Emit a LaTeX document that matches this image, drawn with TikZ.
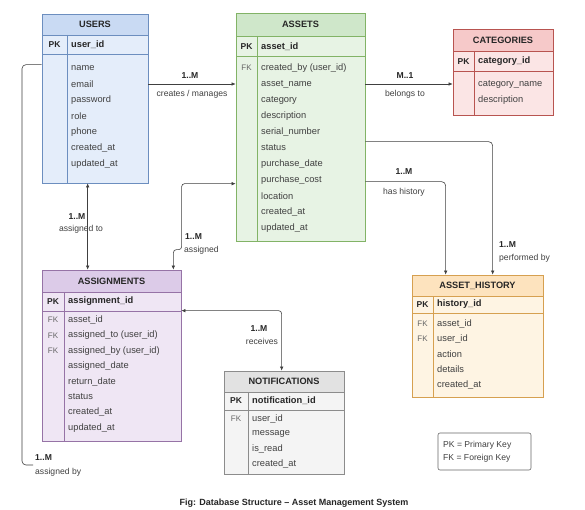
\documentclass[tikz,border=0pt]{standalone}
\usepackage{fontspec}
\setmainfont{Liberation Sans}
\usetikzlibrary{fit,calc,arrows.meta}
\definecolor{usersline}{HTML}{6C8EBF}\definecolor{usershead}{HTML}{C9DAF3}\definecolor{usersbody}{HTML}{E4EDFA}
\definecolor{assetsline}{HTML}{82B366}\definecolor{assetshead}{HTML}{CFE7CA}\definecolor{assetsbody}{HTML}{E7F3E4}
\definecolor{categoriesline}{HTML}{B85450}\definecolor{categorieshead}{HTML}{F6C9C9}\definecolor{categoriesbody}{HTML}{FBE5E5}
\definecolor{assignmentsline}{HTML}{9673A6}\definecolor{assignmentshead}{HTML}{DCCBE8}\definecolor{assignmentsbody}{HTML}{EFE6F4}
\definecolor{notificationsline}{HTML}{8C8C8C}\definecolor{notificationshead}{HTML}{E2E2E2}\definecolor{notificationsbody}{HTML}{F4F4F4}
\definecolor{historyline}{HTML}{D6A050}\definecolor{historyhead}{HTML}{FDE3BE}\definecolor{historybody}{HTML}{FEF4E3}
\tikzset{
  ttl/.style={font=\bfseries\fontsize{9.2}{11}\selectfont, text=black!85, inner sep=0pt},
  fld/.style={anchor=west, inner sep=0pt, font=\fontsize{9.3}{11}\selectfont, text=black!75},
  pkf/.style={fld, font=\bfseries\fontsize{9.3}{11}\selectfont, text=black!85},
  pkt/.style={inner sep=0pt, font=\bfseries\fontsize{8.5}{10}\selectfont, text=black!85},
  fkt/.style={inner sep=0pt, font=\fontsize{8}{10}\selectfont, text=black!60},
  conn/.style={draw=black!75, line width=0.6pt},
  tip/.style={-{Latex[length=4pt,width=3.5pt]}},
  tips/.style={{Latex[length=4pt,width=3.5pt]}-{Latex[length=4pt,width=3.5pt]}},
  lbl/.style={inner sep=0pt, font=\fontsize{8.6}{10}\selectfont, text=black!75},
  mult/.style={inner sep=0pt, font=\bfseries\fontsize{8.6}{10}\selectfont, text=black!85},
}
\newcommand{\erbox}[9]{%
  \node[fit={(#2,#3) (#4,#5)}, inner sep=0pt, draw=#1line, fill=#1body, line width=0.7pt] (#1) {};
  \node[fit={(#2,#3) (#4,#6)}, inner sep=0pt, draw=#1line, fill=#1head, line width=0.7pt] (#1-head) {};
  \node[ttl] (#1-title) at (#1-head.center) {#9};
  \draw[#1line, line width=1pt] (#2,#7) -- (#4,#7);
  \draw[#1line, line width=0.6pt] (#8,#6) -- (#8,#5);
  \node[pkt] (#1-pk) at ({(#2+#8)/2},{(#6+#7)/2}) {PK};
}
\newcommand{\erfields}[5]{\foreach \t [count=\i] in {#5} {\node[fld] (#1-f\i) at (#2,{#3+#4*(\i-1)}) {\t};}}
\begin{document}
\begin{tikzpicture}[x=1pt,y=-1pt]
\path[fill=white] (0,0) rectangle (585,510);
\useasboundingbox (0,0) rectangle (585,510);

% USERS
\erbox{users}{42}{14}{148}{183}{35}{55}{67}{USERS}
\node[pkf] (users-pkf) at (71,45) {user\_id};
\erfields{users}{71}{68}{16}{name,email,password,role,phone,created\_at,updated\_at}

% ASSETS
\erbox{assets}{236}{13}{365}{241}{36}{57}{257}{ASSETS}
\node[pkf] (assets-pkf) at (261,46.5) {asset\_id};
\erfields{assets}{261}{68}{16}{created\_by (user\_id),asset\_name,category,description,serial\_number,status,purchase\_date,purchase\_cost,location,created\_at,updated\_at}
\node[fkt] (assets-fk1) at (246.5,68) {FK};

% CATEGORIES
\erbox{categories}{453}{29}{553}{115}{51}{72}{474}{CATEGORIES}
\node[pkf] (categories-pkf) at (478,61.5) {category\_id};
\erfields{categories}{478}{84}{16}{category\_name,description}

% ASSIGNMENTS
\erbox{assignments}{42}{270}{181}{441}{292}{311}{64}{ASSIGNMENTS}
\node[pkf] (assignments-pkf) at (68,301.5) {assignment\_id};
\erfields{assignments}{68}{320}{15.4}{asset\_id,assigned\_to (user\_id),assigned\_by (user\_id),assigned\_date,return\_date,status,created\_at,updated\_at}
\node[fkt] (assignments-fk1) at (53,320) {FK};
\node[fkt] (assignments-fk2) at (53,335.4) {FK};
\node[fkt] (assignments-fk3) at (53,350.8) {FK};

% NOTIFICATIONS
\erbox{notifications}{224}{371}{344}{474}{392}{410}{248}{NOTIFICATIONS}
\node[pkf] (notifications-pkf) at (252,401) {notification\_id};
\erfields{notifications}{252}{419}{15}{user\_id,message,is\_read,created\_at}
\node[fkt] (notifications-fk1) at (236,419) {FK};

% ASSET_HISTORY
\erbox{history}{412}{275}{543}{397}{296}{313}{433}{ASSET\_HISTORY}
\node[pkf] (history-pkf) at (437,304.5) {history\_id};
\erfields{history}{437}{324}{15.2}{asset\_id,user\_id,action,details,created\_at}
\node[fkt] (history-fk1) at (422.5,324) {FK};
\node[fkt] (history-fk2) at (422.5,339.2) {FK};

% connectors
\draw[conn,tip] (users-f2 -| users.east) -- (users-f2 -| assets.west);
\node[mult] (m1) at (190,76) {1..M};
\node[lbl] (l1) at (192,94) {creates / manages};

\draw[conn,tip] (assets-f2 -| assets.east) -- (assets-f2 -| categories.west);
\node[mult] (m2) at (405,76) {M..1};
\node[lbl] (l2) at (405,94) {belongs to};

\draw[conn,tip,rounded corners=4pt] ($(assets.north east)+(0,129)$) -| ($(history.north west)+(81,0)$);
\node[mult,anchor=west] (m3) at (499,245) {1..M};
\node[lbl,anchor=west] (l3) at (499,258) {performed by};

\draw[conn,tip,rounded corners=4pt] ($(assets.north east)+(0,169)$) -| ($(history.north west)+(34,0)$);
\node[mult] (m4) at (404,172) {1..M};
\node[lbl] (l4) at (404,192) {has history};

\draw[conn,tips] ($(users.south west)+(46,0)$) -- ($(assignments.north west)+(46,0)$);
\node[mult] (m5) at (77,217) {1..M};
\node[lbl] (l5) at (81,229) {assigned to};

\draw[conn,tips,rounded corners=3pt] ($(assets.north west)+(0,171)$) -| ($(assets.north west)+(-54,237)$) -| ($(assignments.north east)+(-8,0)$);
\node[mult,anchor=west] (m6) at (185,237) {1..M};
\node[lbl,anchor=west] (l6) at (184,250) {assigned};

\draw[conn,tips,rounded corners=3pt] ($(assignments.north east)+(0,41)$) -| ($(notifications.north west)+(58,0)$);
\node[mult] (m7) at (259,329) {1..M};
\node[lbl] (l7) at (262,341) {receives};

\coordinate (abyend) at (33,465);
\draw[conn,rounded corners=4pt] ($(users.north west)+(0,51)$) -| ($(abyend)+(-11,0)$) -- (abyend);
\node[mult,anchor=west] (m8) at (35,458) {1..M};
\node[lbl,anchor=west] (l8) at (35,472) {assigned by};

% legend
\node[fit={(438,433) (531,470)}, inner sep=0pt, draw=black!60, rounded corners=2pt, fill=white, line width=0.6pt] (legend) {};
\node[lbl,anchor=west] (leg1) at (443,445) {PK = Primary Key};
\node[lbl,anchor=west] (leg2) at (443,458) {FK = Foreign Key};

% caption
\node[inner sep=0pt, font=\bfseries\fontsize{9}{11}\selectfont, text=black!85] (caption) at (294,503) {Fig: Database Structure – Asset Management System};
\end{tikzpicture}
\end{document}
